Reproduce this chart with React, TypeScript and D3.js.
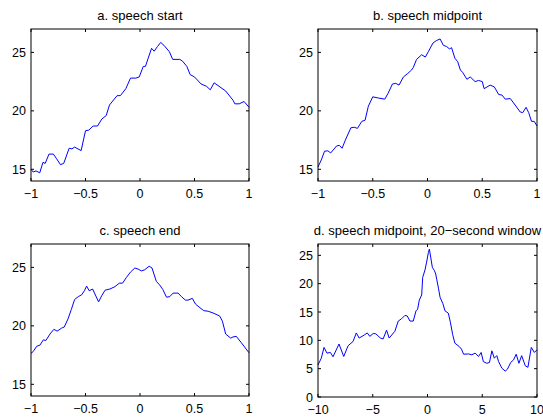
import React from 'react';
import * as d3 from 'd3';

// values, [time, value]
const speechStart: [number, number][] = [
  [-1, 15.0], [-0.98, 14.77], [-0.954, 14.86], [-0.92, 14.7], [-0.89, 15.6], [-0.87, 15.5],
  [-0.835, 16.3], [-0.795, 16.3], [-0.765, 15.9], [-0.73, 15.4], [-0.7, 15.5], [-0.65, 16.8],
  [-0.625, 16.75], [-0.6, 16.9], [-0.54, 16.6], [-0.5, 18.3], [-0.47, 18.35], [-0.43, 18.7],
  [-0.39, 18.7], [-0.35, 19.3], [-0.31, 19.6], [-0.28, 20.5], [-0.21, 21.3], [-0.18, 21.3],
  [-0.13, 21.9], [-0.087, 22.8], [-0.038, 22.8], [-0.007, 22.9], [0.03, 23.8], [0.05, 23.8],
  [0.075, 24.5], [0.106, 25.35], [0.13, 25.1], [0.16, 25.5], [0.19, 25.85], [0.22, 25.6],
  [0.27, 25.05], [0.3, 24.4], [0.365, 24.4], [0.39, 24.25], [0.43, 23.8], [0.46, 23.1],
  [0.5, 22.9], [0.56, 22.3], [0.61, 22.1], [0.645, 21.8], [0.68, 22.4], [0.725, 22.1],
  [0.786, 21.7], [0.854, 20.9], [0.87, 20.6], [0.91, 20.6], [0.955, 20.8], [1.0, 20.3],
];

const speechMidpoint: [number, number][] = [
  [-1, 15.2], [-0.97, 15.8], [-0.94, 16.55], [-0.91, 16.58], [-0.884, 16.4], [-0.83, 17.0],
  [-0.805, 17.05], [-0.78, 16.8], [-0.75, 17.5], [-0.7, 18.55], [-0.67, 18.6], [-0.64, 18.5],
  [-0.6, 19.1], [-0.57, 19.2], [-0.54, 20.4], [-0.5, 21.2], [-0.45, 21.1], [-0.39, 21.0],
  [-0.36, 21.5], [-0.32, 22.3], [-0.29, 22.35], [-0.26, 22.2], [-0.22, 22.9], [-0.18, 23.2],
  [-0.145, 23.5], [-0.13, 23.7], [-0.1, 24.4], [-0.053, 24.8], [-0.02, 24.6], [0.01, 25.1],
  [0.05, 25.8], [0.08, 26.0], [0.115, 26.15], [0.145, 25.6], [0.175, 25.5], [0.2, 25.3],
  [0.22, 25.4], [0.25, 24.5], [0.276, 24.2], [0.3, 23.5], [0.32, 23.3], [0.36, 22.7],
  [0.39, 22.9], [0.435, 22.5], [0.466, 22.6], [0.5, 22.5], [0.517, 21.9], [0.572, 22.2],
  [0.61, 22.05], [0.65, 21.4], [0.68, 21.35], [0.71, 21.0], [0.756, 21.05], [0.8, 20.5],
  [0.847, 19.9], [0.87, 19.85], [0.9, 20.3], [0.924, 19.85], [0.95, 19.1], [0.975, 19.1],
  [1.0, 18.7],
];

const speechEnd: [number, number][] = [
  [-1, 17.65], [-0.98, 17.8], [-0.948, 18.25], [-0.918, 18.35], [-0.887, 18.8], [-0.863, 18.75],
  [-0.826, 19.3], [-0.79, 19.7], [-0.76, 19.55], [-0.72, 19.8], [-0.695, 19.9], [-0.66, 20.6],
  [-0.63, 21.4], [-0.6, 22.25], [-0.566, 22.5], [-0.536, 22.65], [-0.51, 23.0], [-0.49, 23.4],
  [-0.466, 23.0], [-0.435, 23.15], [-0.38, 22.05], [-0.35, 22.6], [-0.32, 23.05], [-0.276, 23.15],
  [-0.23, 23.35], [-0.19, 23.65], [-0.16, 23.65], [-0.124, 24.15], [-0.087, 24.6], [-0.047, 24.95],
  [-0.017, 24.85], [0.014, 24.7], [0.044, 24.8], [0.084, 25.1], [0.11, 24.95], [0.15, 23.8],
  [0.18, 23.5], [0.21, 23.1], [0.243, 22.45], [0.273, 22.5], [0.304, 22.8], [0.35, 22.8],
  [0.38, 22.5], [0.417, 22.2], [0.44, 22.2], [0.48, 22.35], [0.51, 21.85], [0.55, 21.55],
  [0.585, 21.3], [0.625, 21.25], [0.67, 21.1], [0.73, 20.85], [0.756, 20.4], [0.786, 19.3],
  [0.832, 18.95], [0.853, 19.05], [0.884, 19.1], [0.93, 18.55], [1.0, 17.7],
];

const midpointWide: [number, number][] = [
  [-10, 5.65], [-9.7, 6.85], [-9.45, 8.75], [-9.18, 7.74], [-8.87, 7.86], [-8.63, 7.1],
  [-8.08, 9.35], [-7.65, 7.15], [-7.25, 9.05], [-6.8, 9.8], [-6.5, 11.3], [-6.24, 10.4],
  [-5.73, 11.0], [-5.5, 11.3], [-5.27, 10.7], [-4.96, 11.2], [-4.72, 11.15], [-4.3, 10.4],
  [-4.05, 10.25], [-3.74, 11.8], [-3.5, 10.4], [-2.98, 11.6], [-2.67, 13.4], [-2.37, 13.8],
  [-2.06, 14.4], [-1.85, 14.3], [-1.6, 13.4], [-1.3, 13.4], [-1.05, 15.2], [-0.9, 15.5],
  [-0.75, 17.1], [-0.53, 18.0], [-0.44, 21.1], [-0.23, 22.4], [-0.08, 23.8], [0.08, 25.5],
  [0.17, 26.1], [0.29, 24.7], [0.44, 22.9], [0.63, 22.3], [0.75, 21.7], [0.84, 20.8],
  [1.0, 19.2], [1.15, 17.6], [1.4, 16.5], [1.6, 15.2], [1.9, 14.8], [2.1, 13.1],
  [2.3, 11.0], [2.5, 9.5], [2.9, 8.9], [3.1, 8.45], [3.3, 7.55], [3.74, 7.6],
  [4.05, 7.45], [4.35, 7.74], [4.66, 7.15], [4.9, 7.86], [5.1, 6.25], [5.42, 5.95],
  [5.66, 6.1], [5.88, 8.15], [6.1, 6.85], [6.33, 7.3], [6.49, 6.25], [6.8, 5.06],
  [7.1, 4.58], [7.3, 4.9], [7.6, 6.1], [7.86, 6.55], [8.1, 7.55], [8.35, 5.95],
  [8.6, 7.3], [8.93, 5.5], [9.17, 5.24], [9.48, 8.75], [9.76, 7.86], [10.0, 8.33],
];

const shortTicksX = [-1, -0.5, 0, 0.5, 1];
const shortTickLabelsX = ['−1', '−0.5', '0', '0.5', '1'];
const shortTicksY = [15, 20, 25];
const wideTicksX = [-10, -5, 0, 5, 10];
const wideTickLabelsX = ['−10', '−5', '0', '5', '10'];
const wideTicksY = [0, 5, 10, 15, 20, 25];

const titles = [
  'a. speech start',
  'b. speech midpoint',
  'c. speech end',
  'd. speech midpoint, 20−second window',
];

const font = '"Liberation Sans", Arial, Helvetica, sans-serif';
const tickLen = 3;

type PanelProps = {
  box: { left: number; right: number; top: number; bottom: number };
  title: string;
  data: [number, number][];
  xDomain: [number, number];
  yDomain: [number, number];
  xTicks: number[];
  xLabels: string[];
  yTicks: number[];
};

const Panel = ({ box, title, data, xDomain, yDomain, xTicks, xLabels, yTicks }: PanelProps) => {
  const x = d3.scaleLinear().domain(xDomain).range([box.left, box.right]);
  const y = d3.scaleLinear().domain(yDomain).range([box.bottom, box.top]);
  const line = d3.line<[number, number]>().x((d) => x(d[0])).y((d) => y(d[1]));

  return (
    <g>
      <text
        x={(box.left + box.right) / 2}
        y={box.top - 9.5}
        textAnchor="middle"
        fontSize={13}
        fontFamily={font}
        fill="#000"
      >
        {title}
      </text>
      <path d={line(data) || ''} fill="none" stroke="#0000ff" strokeWidth={1} />
      <rect
        x={box.left}
        y={box.top}
        width={box.right - box.left}
        height={box.bottom - box.top}
        fill="none"
        stroke="#000"
        strokeWidth={1}
      />
      {xTicks.map((t, i) => (
        <g key={'x' + t}>
          <line x1={x(t)} x2={x(t)} y1={box.bottom} y2={box.bottom - tickLen} stroke="#000" />
          <line x1={x(t)} x2={x(t)} y1={box.top} y2={box.top + tickLen} stroke="#000" />
          <text
            x={x(t)}
            y={box.bottom + 16.5}
            textAnchor="middle"
            fontSize={12.5}
            fontFamily={font}
          >
            {xLabels[i]}
          </text>
        </g>
      ))}
      {yTicks.map((t) => (
        <g key={'y' + t}>
          <line x1={box.left} x2={box.left + tickLen} y1={y(t)} y2={y(t)} stroke="#000" />
          <line x1={box.right} x2={box.right - tickLen} y1={y(t)} y2={y(t)} stroke="#000" />
          <text
            x={box.left - 5}
            y={y(t) + 4.5}
            textAnchor="end"
            fontSize={12.5}
            fontFamily={font}
          >
            {t}
          </text>
        </g>
      ))}
    </g>
  );
};

const App = () => {
  return (
    <svg
      width={543}
      height={418}
      style={{ position: 'fixed', left: 0, top: 0, background: '#fff' }}
    >
      <Panel
        box={{ left: 31, right: 249, top: 29, bottom: 181 }}
        title={titles[0]}
        data={speechStart}
        xDomain={[-1, 1]}
        yDomain={[14, 27]}
        xTicks={shortTicksX}
        xLabels={shortTickLabelsX}
        yTicks={shortTicksY}
      />
      <Panel
        box={{ left: 318, right: 537, top: 29, bottom: 181 }}
        title={titles[1]}
        data={speechMidpoint}
        xDomain={[-1, 1]}
        yDomain={[14, 27]}
        xTicks={shortTicksX}
        xLabels={shortTickLabelsX}
        yTicks={shortTicksY}
      />
      <Panel
        box={{ left: 31, right: 249, top: 244, bottom: 396 }}
        title={titles[2]}
        data={speechEnd}
        xDomain={[-1, 1]}
        yDomain={[14, 27]}
        xTicks={shortTicksX}
        xLabels={shortTickLabelsX}
        yTicks={shortTicksY}
      />
      <Panel
        box={{ left: 318, right: 537, top: 244, bottom: 397 }}
        title={titles[3]}
        data={midpointWide}
        xDomain={[-10, 10]}
        yDomain={[0, 27]}
        xTicks={wideTicksX}
        xLabels={wideTickLabelsX}
        yTicks={wideTicksY}
      />
    </svg>
  );
};

export default App;
